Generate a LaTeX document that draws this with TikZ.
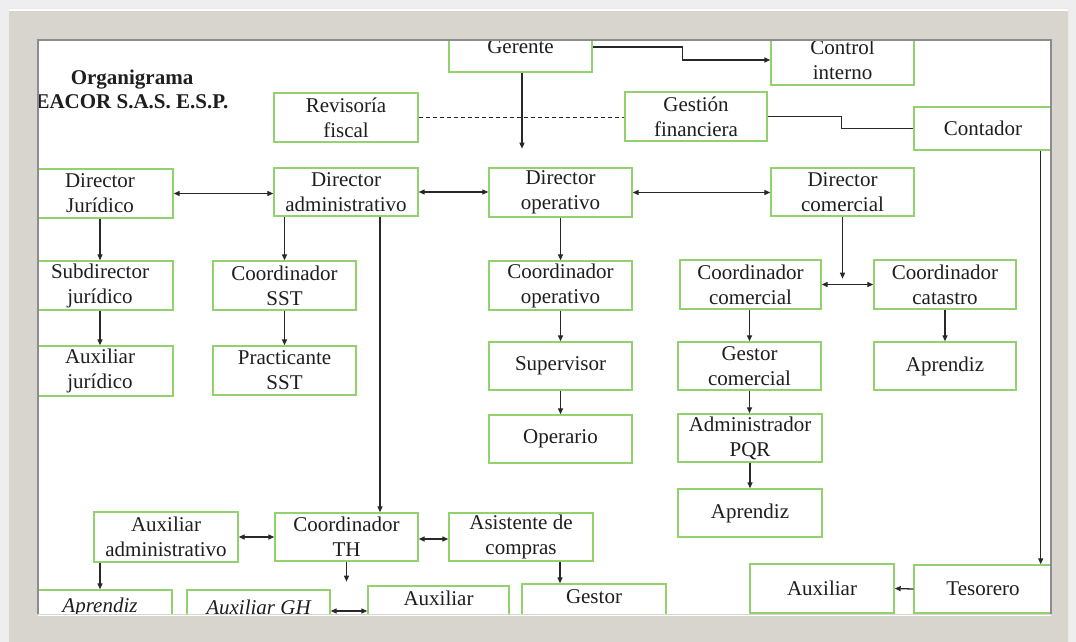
\documentclass[tikz,border=0pt]{standalone}
\usepackage{fontspec}
\setmainfont{Liberation Serif}
\usetikzlibrary{arrows.meta,calc}
\definecolor{boxgreen}{RGB}{146,210,110}
\definecolor{framegray}{RGB}{216,213,206}
\definecolor{outergray}{RGB}{238,238,238}
\definecolor{linegray}{RGB}{40,40,40}
\definecolor{txt}{RGB}{30,30,30}
\begin{document}
\begin{tikzpicture}[x=1pt,y=-1pt,
  box/.style={draw=boxgreen,line width=1.4pt,fill=white,inner sep=0pt,align=center,text=txt,font=\fontsize{21}{25}\selectfont},
  conn/.style={draw=linegray,line width=1.3pt},
  arr/.style={conn,-{Triangle[length=6pt,width=5pt]}},
  darr/.style={conn,{Triangle[length=6pt,width=5pt]}-{Triangle[length=6pt,width=5pt]}},
  dash line/.style={conn,dash pattern=on 4pt off 3pt,line width=1pt},
]
\useasboundingbox (0,0) rectangle (1076,642);
\fill[outergray] (0,0) rectangle (1076,642);
\fill[white] (38,40) rectangle (1051,614);

% title
\node[font=\bfseries\fontsize{21}{24}\selectfont,align=center,text=txt] (title) at (132,89) {Organigrama\\EACOR S.A.S. E.S.P.};

% top
\node[box,minimum width=143pt,minimum height=50pt] (gerente) at (520.5,47) {Gerente};
\node[box,minimum width=143pt,minimum height=50pt] (control) at (842.5,60) {Control\\interno};
\node[box,minimum width=144pt,minimum height=49pt] (revisoria) at (346,117.5) {Revisoría\\fiscal};
\node[box,minimum width=142pt,minimum height=49pt] (gestion) at (696,116.5) {Gestión\\financiera};
\node[box,minimum width=138pt,minimum height=43pt] (contador) at (983,128.5) {Contador};

% directors
\node[box,minimum width=146pt,minimum height=49pt] (djur) at (100,193.5) {Director\\Jurídico};
\node[box,minimum width=144pt,minimum height=48pt] (dadm) at (346,192) {Director\\administrativo};
\node[box,minimum width=143pt,minimum height=49pt] (dop) at (560.5,192.5) {Director\\operativo};
\node[box,minimum width=143pt,minimum height=48pt] (dcom) at (842.5,192) {Director\\comercial};

% row 2
\node[box,minimum width=146pt,minimum height=49pt] (subjur) at (100,285.5) {Subdirector\\jurídico};
\node[box,minimum width=143pt,minimum height=49pt] (csst) at (284.5,285.5) {Coordinador\\SST};
\node[box,minimum width=143pt,minimum height=49pt] (cop) at (560.5,285.5) {Coordinador\\operativo};
\node[box,minimum width=141pt,minimum height=49pt] (ccom) at (750.5,284.5) {Coordinador\\comercial};
\node[box,minimum width=142pt,minimum height=49pt] (ccat) at (945,284.5) {Coordinador\\catastro};

% row 3
\node[box,minimum width=146pt,minimum height=50pt] (auxjur) at (100,371) {Auxiliar\\jurídico};
\node[box,minimum width=143pt,minimum height=49pt] (psst) at (284.5,370.5) {Practicante\\SST};
\node[box,minimum width=143pt,minimum height=48pt] (sup) at (560.5,366) {Supervisor};
\node[box,minimum width=143pt,minimum height=48pt] (gcom) at (749.5,366) {Gestor\\comercial};
\node[box,minimum width=142pt,minimum height=48pt] (apcat) at (945,366) {Aprendiz};

% row 4
\node[box,minimum width=143pt,minimum height=48pt] (operario) at (560.5,439) {Operario};
\node[box,minimum width=144pt,minimum height=48pt] (apqr) at (750,438) {Administrador\\PQR};
\node[box,minimum width=144pt,minimum height=48pt] (apcom) at (750,513) {Aprendiz};

% row 5
\node[box,minimum width=144pt,minimum height=50pt] (auxadm) at (166,537) {Auxiliar\\administrativo};
\node[box,minimum width=143pt,minimum height=48pt] (cth) at (346.5,537) {Coordinador\\TH};
\node[box,minimum width=144pt,minimum height=48pt] (asis) at (521,537) {Asistente de\\compras};
\node[box,minimum width=144pt,minimum height=49pt] (auxtes) at (822,588.5) {Auxiliar};
\node[box,minimum width=138pt,minimum height=48pt] (tesorero) at (983,589) {Tesorero};

% bottom (clipped)
\node[box,minimum width=144pt,minimum height=34pt,font=\itshape\fontsize{21}{25}\selectfont] (aprit) at (100,607) {Aprendiz};
\node[box,minimum width=143pt,minimum height=34pt,font=\itshape\fontsize{21}{25}\selectfont] (auxgh) at (258.5,607) {Auxiliar GH};
\node[box,minimum width=141pt,minimum height=50pt] (auxb) at (438.5,611) {Auxiliar\\\phantom{x}};
\node[box,minimum width=144pt,minimum height=50pt] (gestor) at (594,609) {Gestor\\\phantom{x}};

% connectors
\draw[arr] (gerente.east) -- ++(90,0) |- (control.west);
\draw[arr] ([xshift=1.5pt]gerente.south) -- ++(0,76) coordinate (gdown);
\draw[dash line] (revisoria.east) -- (revisoria.east -| gestion.west);
\draw[conn] (gestion.east) -- ++(74,0) |- (contador.west);
\draw[arr] ([xshift=-12pt]contador.south east) -- ([xshift=-12pt]tesorero.north east);

\draw[darr] (djur.east) -- (djur.east -| dadm.west);
\draw[darr] (dadm.east) -- (dadm.east -| dop.west);
\draw[darr] (dop.east) -- (dop.east -| dcom.west);

\draw[arr] (djur.south) -- (subjur.north);
\draw[arr] (subjur.south) -- (auxjur.north);
\draw[arr] (dadm.south -| csst.north) -- (csst.north);
\draw[arr] (csst.south) -- (psst.north);
\draw[arr] ([xshift=34pt]dadm.south) -- ([xshift=34pt]dadm.south |- cth.north);
\draw[arr] (dop.south) -- (cop.north);
\draw[arr] (cop.south) -- (sup.north);
\draw[arr] (sup.south) -- (operario.north);
\draw[arr] (dcom.south) -- ++(0,62) coordinate (cdown);
\draw[darr] (ccom.east) -- (ccom.east -| ccat.west);
\draw[arr] (ccom.south -| gcom.north) -- (gcom.north);
\draw[arr] (gcom.south) -- (apqr.north -| gcom.south);
\draw[arr] (apqr.south) -- (apcom.north);
\draw[arr] (ccat.south) -- (apcat.north);

\draw[darr] (auxadm.east) -- (auxadm.east -| cth.west);
\draw[darr] ([yshift=-2pt]cth.east) -- ([yshift=-2pt]cth.east -| asis.west);
\draw[arr] (auxadm.south -| aprit.north) -- (aprit.north);
\draw[arr] (cth.south) -- ++(0,20) coordinate (thdown);
\draw[arr] ([xshift=39pt]asis.south) -- ([xshift=39pt]asis.south |- gestor.north);
\draw[darr] (auxb.west -| auxgh.east) -- (auxb.west);
\draw[arr] (tesorero.west) -- (auxtes.east);

% frame
\fill[framegray,even odd rule] (9,9) rectangle (1068,642) (38,40) rectangle (1051,614);
\draw[white,line width=1.5pt] (9,10) -- (1068,10);
\draw[black!45,line width=1.8pt] (38,614) -- (38,40) -- (1051,40) -- (1051,614);
\draw[white,line width=1pt] (38,615) -- (1051,615);
\end{tikzpicture}
\end{document}
